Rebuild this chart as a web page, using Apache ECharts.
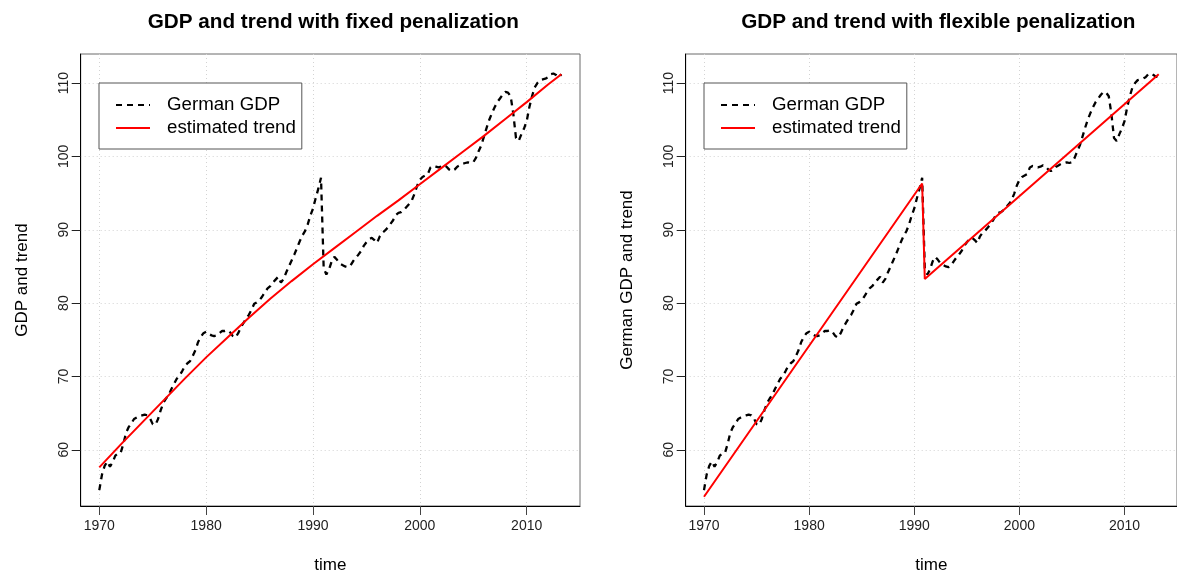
<!DOCTYPE html>
<html><head><meta charset="utf-8">
<script src="https://cdn.jsdelivr.net/npm/echarts@6/dist/echarts.min.js"></script>
<style>html,body{margin:0;padding:0;background:#fff}#c{width:1177px;height:579px}</style>
</head><body><div id="c"></div>
<script>
// quarterly German GDP index, starting 1970 Q1
const startYear = 1970;
const freq = 4;
const gdp = [
  54.5, 56.6, 57.8, 58.4,   // 1970
  57.7, 58.3, 59.2, 59.5,   // 1971
  59.6, 60.8, 62.3, 63.1,   // 1972
  63.6, 64.2, 64.4, 64.6,   // 1973
  64.7, 64.8, 64.7, 64.3,   // 1974
  63.5, 63.4, 64.2, 65.4,   // 1975
  66.4, 67.0, 67.5, 68.3,   // 1976
  69.0, 69.7, 70.1, 70.7,   // 1977
  71.4, 71.8, 72.1, 72.8,   // 1978
  73.6, 74.7, 75.4, 75.9,   // 1979
  76.1, 75.8, 75.6, 75.5,   // 1980
  75.6, 75.9, 76.2, 76.2,   // 1981
  76.3, 76.0, 75.5, 75.3,   // 1982
  75.9, 76.7, 77.3, 77.9,   // 1983
  78.4, 79.1, 79.9, 80.1,   // 1984
  80.4, 80.9, 81.5, 82.0,   // 1985
  82.3, 82.8, 83.2, 83.6,   // 1986
  82.8, 83.3, 84.2, 85.0,   // 1987
  85.8, 86.6, 87.5, 88.4,   // 1988
  89.2, 89.8, 90.7, 91.9,   // 1989
  92.9, 94.3, 95.6, 97.1,   // 1990
  84.8, 83.9, 84.6, 85.7,   // 1991
  86.3, 85.9, 85.4, 85.2,   // 1992
  85.0, 84.9, 85.1, 85.7,   // 1993
  86.2, 86.6, 87.1, 87.8,   // 1994
  88.3, 88.7, 88.9, 88.6,   // 1995
  88.2, 89.1, 89.6, 89.9,   // 1996
  90.3, 90.8, 91.3, 92.0,   // 1997
  92.3, 92.4, 92.7, 93.1,   // 1998
  93.5, 94.0, 94.9, 96.0,   // 1999
  96.8, 97.2, 97.4, 97.6,   // 2000
  98.5, 98.7, 98.6, 98.5,   // 2001
  98.6, 98.8, 98.6, 98.2,   // 2002
  98.0, 98.2, 98.6, 98.8,   // 2003
  99.0, 99.1, 99.2, 99.1,   // 2004
  99.2, 99.8, 100.7, 101.5, // 2005
  102.7, 103.9, 105.0, 105.9, // 2006
  106.7, 107.4, 107.9, 108.4, // 2007
  108.8, 108.7, 108.2, 105.8, // 2008
  102.5, 102.1, 103.0, 103.8, // 2009
  104.8, 106.7, 108.2, 109.4, // 2010
  110.0, 110.4, 110.5, 110.6, // 2011
  110.8, 111.2, 111.3, 111.1, // 2012
  110.8, 111.2              // 2013
];
// trend with fixed penalization (read at selected times)
const trendFixedTime = [1970, 1972, 1974, 1976, 1978, 1980, 1982, 1984, 1986, 1988, 1990, 1992, 1994, 1996, 1998, 2000, 2002, 2004, 2006, 2008, 2010, 2012, 2013.25];
const trendFixed     = [57.6, 60.7, 63.7, 66.7, 69.7, 72.6, 75.3, 78.0, 80.6, 83.0, 85.3, 87.5, 89.7, 91.9, 94.0, 96.2, 98.4, 100.6, 102.8, 105.1, 107.4, 109.8, 111.2];
// trend with flexible penalization (break points)
const trendFlexTime = [1970, 1990.75, 1991.0, 2013.25];
const trendFlex     = [53.6, 96.3, 83.3, 111.2];

const xTicks = [1970, 1980, 1990, 2000, 2010];
const yTicks = [60, 70, 80, 90, 100, 110];
const titles = ['GDP and trend with fixed penalization', 'GDP and trend with flexible penalization'];
const yNames = ['GDP and trend', 'German GDP and trend'];
const xName = 'time';
const legendNames = ['German GDP', 'estimated trend'];

const FONT = '"Liberation Sans", Arial, Helvetica, sans-serif';
const gdpData = gdp.map((v, i) => [startYear + i / freq, v]);
const pair = (t, v) => t.map((x, i) => [x, v[i]]);
const trends = [pair(trendFixedTime, trendFixed), pair(trendFlexTime, trendFlex)];

const panelLeft = [80.7, 685.7];
const PW = 499.3, PT = 54, PH = 456;
const X_MIN = 1968.26, X_MAX = 2014.99, Y_MIN = 52.34, Y_MAX = 113.96;

const grids = [], xAxes = [], yAxes = [], series = [], legends = [], titleArr = [];
for (let p = 0; p < 2; p++) {
  grids.push({left: panelLeft[p], top: PT, width: PW, height: PH, show: true, borderColor: '#6a6a6a', borderWidth: 1, containLabel: false});
  xAxes.push({
    type: 'value', gridIndex: p, min: X_MIN, max: X_MAX,
    name: xName, nameLocation: 'middle', nameGap: 51,
    nameTextStyle: {fontFamily: FONT, fontSize: 17, color: '#000'},
    axisLine: {show: true, onZero: false, lineStyle: {color: '#000', width: 1}},
    axisTick: {show: true, inside: false, length: 9, customValues: xTicks, lineStyle: {color: '#444'}},
    axisLabel: {customValues: xTicks, formatter: v => String(v), fontFamily: FONT, fontSize: 14, color: '#222', margin: 13},
    splitLine: {show: true, lineStyle: {color: '#d3d3d3', type: [1, 3], width: 1}}
  });
  yAxes.push({
    type: 'value', gridIndex: p, min: Y_MIN, max: Y_MAX,
    name: yNames[p], nameLocation: 'middle', nameGap: 50,
    nameTextStyle: {fontFamily: FONT, fontSize: 17, color: '#000'},
    axisLine: {show: true, onZero: false, lineStyle: {color: '#000', width: 1}},
    axisTick: {show: true, inside: false, length: 9, customValues: yTicks, lineStyle: {color: '#222'}},
    axisLabel: {customValues: yTicks, formatter: v => String(v), rotate: 90, fontFamily: FONT, fontSize: 14, color: '#222', margin: 10},
    splitLine: {show: true, lineStyle: {color: '#d3d3d3', type: [1, 3], width: 1}}
  });
  series.push({
    name: legendNames[0], type: 'line', xAxisIndex: p, yAxisIndex: p, data: gdpData,
    symbol: 'none', showSymbol: false, smooth: false, z: 3,
    lineStyle: {color: '#000', width: 2.3, type: [6, 5]}, itemStyle: {color: '#000'}
  });
  series.push({
    name: legendNames[1], type: 'line', xAxisIndex: p, yAxisIndex: p, data: trends[p],
    symbol: 'none', showSymbol: false, z: 4,
    lineStyle: {color: '#ff0000', width: 2}, itemStyle: {color: '#ff0000'}
  });
  legends.push({
    data: legendNames, orient: 'vertical', left: panelLeft[p] + 18.3, top: 83,
    padding: [12, 6, 11, 16], itemGap: 3, itemWidth: 34, itemHeight: 20,
    borderColor: '#555', borderWidth: 1, backgroundColor: '#fff',
    itemStyle: {opacity: 0},
    textStyle: {fontFamily: FONT, fontSize: 18.7, color: '#000', lineHeight: 20, padding: [0, 0, 0, 12]},
    selectedMode: false
  });
  titleArr.push({
    text: titles[p], left: panelLeft[p] + PW / 2 + 3, top: 12, textAlign: 'center', padding: 0,
    textStyle: {fontFamily: FONT, fontSize: 20.7, fontWeight: 'bold', color: '#000'}
  });
}

const chart = echarts.init(document.getElementById('c'), null, {renderer: 'canvas'});
chart.setOption({
  animation: false, backgroundColor: '#fff',
  title: titleArr, legend: legends, grid: grids, xAxis: xAxes, yAxis: yAxes, series: series
});
</script></body></html>
